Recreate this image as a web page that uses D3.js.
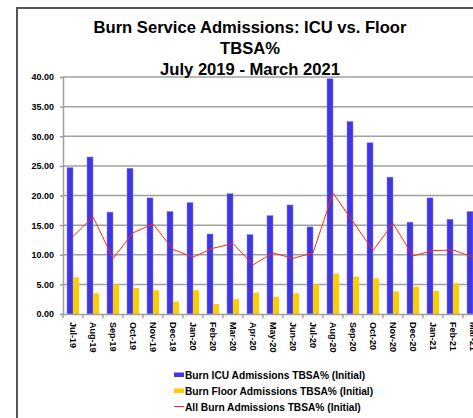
<!DOCTYPE html>
<html>
<head>
<meta charset="utf-8">
<script src="https://cdn.jsdelivr.net/npm/d3@7"></script>
<style>
  body { margin: 0; background: #fff; }
  text { font-family: "Liberation Sans", Arial, sans-serif; font-weight: bold; }
</style>
</head>
<body>
<div id="chart"></div>
<script>
var width = 473;
var height = 418;
var margin = {top: 77, left: 63, bottom: 104};

var months = ["Jul-19", "Aug-19", "Sep-19", "Oct-19", "Nov-19", "Dec-19", "Jan-20", "Feb-20",
  "Mar-20", "Apr-20", "May-20", "Jun-20", "Jul-20", "Aug-20", "Sep-20", "Oct-20", "Nov-20",
  "Dec-20", "Jan-21", "Feb-21", "Mar-21"];
var icu = [24.7, 26.5, 17.2, 24.6, 19.6, 17.3, 18.8, 13.5, 20.3, 13.4, 16.6, 18.4, 14.7,
  39.7, 32.5, 28.9, 23.1, 15.5, 19.6, 16.0, 17.3];
var floor = [6.2, 3.5, 5.0, 4.4, 4.0, 2.1, 4.0, 1.7, 2.5, 3.6, 2.9, 3.5, 5.0,
  6.8, 6.3, 6.0, 3.8, 4.6, 3.9, 5.2, 5.0];
var all = [13.1, 16.4, 9.4, 13.7, 15.2, 10.9, 9.6, 11.1, 11.9, 8.3, 10.3, 9.4, 10.3,
  20.4, 15.6, 10.7, 15.3, 9.8, 10.7, 10.8, 9.6];
var yTicks = [0, 5, 10, 15, 20, 25, 30, 35, 40];
var seriesNames = ["Burn ICU Admissions TBSA% (Initial)", "Burn Floor Admissions TBSA% (Initial)",
  "All Burn Admissions TBSA% (Initial)"];
var titleLines = ["Burn Service Admissions: ICU vs. Floor", "TBSA%", "July 2019 - March 2021"];

var blue = "#3f36e4";
var yellow = "#ffcc00";
var red = "#ff2a10";

var svg = d3.select("#chart")
  .append("svg")
  .attr("width", width)
  .attr("height", height);

// frame
svg.append("path")
  .attr("d", "M17," + height + "V8H" + width)
  .attr("fill", "none")
  .attr("stroke", "#555")
  .attr("stroke-width", 2);

var x = d3.scaleBand()
  .domain(months)
  .range([margin.left, margin.left + months.length * 20]);

var xSub = d3.scaleBand()
  .domain(["icu", "floor"])
  .range([4, 16]);

var y = d3.scaleLinear()
  .domain([0, 40])
  .range([height - margin.bottom, margin.top]);

// gridlines
svg.append("g")
  .selectAll("line")
  .data(yTicks.slice(1))
  .join("line")
    .attr("x1", margin.left)
    .attr("x2", width)
    .attr("y1", function(d) { return y(d); })
    .attr("y2", function(d) { return y(d); })
    .attr("stroke", "#a0a0a0")
    .attr("stroke-width", 1.5);

// y axis
var yAxis = svg.append("g")
  .attr("transform", "translate(" + margin.left + ",0)")
  .call(d3.axisLeft(y).tickValues(yTicks).tickFormat(d3.format(".2f")).tickSize(3).tickPadding(6));
yAxis.selectAll("line, path").attr("stroke", "#a0a0a0").attr("stroke-width", 1.5);
yAxis.selectAll("text").attr("font-size", "9px").attr("fill", "#000")
  .style("font-family", "'Liberation Sans', Arial, sans-serif");

// bars
var bars = svg.append("g");
bars.selectAll(".icu")
  .data(icu)
  .join("rect")
    .attr("class", "icu")
    .attr("x", function(d, i) { return x(months[i]) + xSub("icu"); })
    .attr("width", xSub.bandwidth())
    .attr("y", function(d) { return y(d); })
    .attr("height", function(d) { return y(0) - y(d); })
    .attr("fill", blue)
    .attr("stroke", "#8a84f0")
    .attr("stroke-width", 0.5);

bars.selectAll(".floor")
  .data(floor)
  .join("rect")
    .attr("class", "floor")
    .attr("x", function(d, i) { return x(months[i]) + xSub("floor"); })
    .attr("width", xSub.bandwidth())
    .attr("y", function(d) { return y(d); })
    .attr("height", function(d) { return y(0) - y(d); })
    .attr("fill", yellow);

// x axis
var xAxis = svg.append("g")
  .attr("transform", "translate(0," + y(0) + ")")
  .call(d3.axisBottom(x).tickSize(0).tickFormat(""));
xAxis.select("path").attr("stroke", "#a0a0a0").attr("stroke-width", 1.5);

svg.append("g")
  .selectAll("line")
  .data(months)
  .join("line")
    .attr("x1", function(d) { return x(d); })
    .attr("x2", function(d) { return x(d); })
    .attr("y1", y(0))
    .attr("y2", y(0) + 4)
    .attr("stroke", "#a0a0a0")
    .attr("stroke-width", 1.5);

svg.append("g")
  .selectAll("text")
  .data(months)
  .join("text")
    .attr("transform", function(d) {
      return "translate(" + (x(d) + x.bandwidth() / 2) + "," + (y(0) + 8) + ") rotate(90)";
    })
    .attr("dy", "0.35em")
    .attr("font-size", "9px")
    .text(function(d) { return d; });

// line
var line = d3.line()
  .x(function(d, i) { return x(months[i]) + x.bandwidth() / 2; })
  .y(function(d) { return y(d); });

svg.append("path")
  .datum(all)
  .attr("d", line)
  .attr("fill", "none")
  .attr("stroke", red)
  .attr("stroke-width", 1);

// title
svg.append("g")
  .selectAll("text")
  .data(titleLines)
  .join("text")
    .attr("x", 250)
    .attr("y", function(d, i) { return 33 + i * 21; })
    .attr("text-anchor", "middle")
    .attr("font-size", "16.6px")
    .text(function(d) { return d; });

// legend
var legend = svg.append("g")
  .selectAll("g")
  .data(seriesNames)
  .join("g")
    .attr("transform", function(d, i) { return "translate(174," + (379 + i * 16) + ")"; });

legend.each(function(d, i) {
  var g = d3.select(this);
  if (i < 2) {
    g.append("rect")
      .attr("x", 0)
      .attr("y", -6.5)
      .attr("width", 10)
      .attr("height", 4.5)
      .attr("fill", i === 0 ? blue : yellow);
  } else {
    g.append("line")
      .attr("x1", 0)
      .attr("x2", 10)
      .attr("y1", -4.5)
      .attr("y2", -4.5)
      .attr("stroke", red)
      .attr("stroke-width", 1);
  }
  g.append("text")
    .attr("x", 11)
    .attr("font-size", "10.2px")
    .text(d);
});
</script>
</body>
</html>
